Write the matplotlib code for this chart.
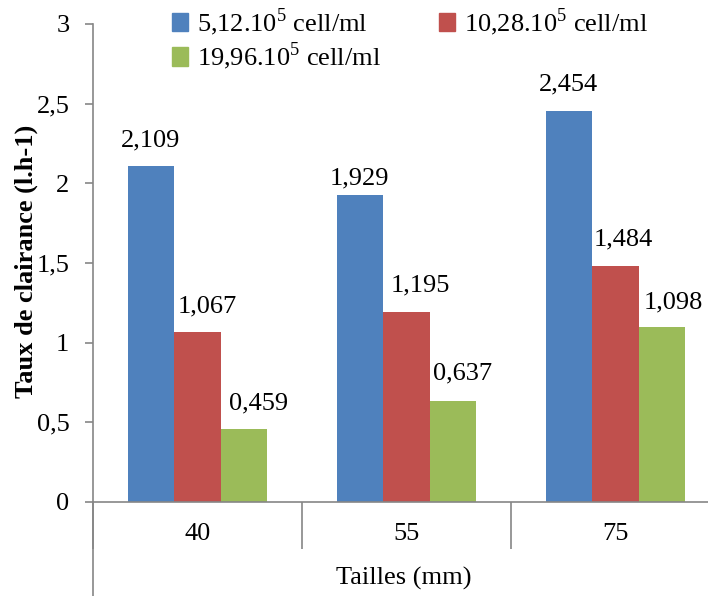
import numpy as np
import matplotlib
matplotlib.use("Agg")
import matplotlib.pyplot as plt
from matplotlib.patches import Patch

# data
tailles = ["40", "55", "75"]
series = ["5,12.10$^5$ cell/ml", "10,28.10$^5$ cell/ml", "19,96.10$^5$ cell/ml"]
conc_512 = [2.109, 1.929, 2.454]
conc_1028 = [1.067, 1.195, 1.484]
conc_1996 = [0.459, 0.637, 1.098]
yticks = [0, 0.5, 1, 1.5, 2, 2.5, 3]
colors = ["#4F81BD", "#C0504D", "#9BBB59"]

# label nudges (pixels) as placed in the original sheet
label_dx = [[0, 0, 0], [10, 14, 8], [14, 9, 11]]
label_dy = [[26, 16, 27], [26, 26, 26], [25, 27, 25]]

plt.rcParams["font.family"] = ["Liberation Serif", "DejaVu Serif"]
plt.rcParams["mathtext.fontset"] = "custom"
plt.rcParams["mathtext.rm"] = "Liberation Serif"

fig = plt.figure(figsize=(7.08, 5.96), dpi=100)
ax = fig.add_axes([93 / 708, 94 / 596, 627 / 708, 478 / 596])

x = np.arange(len(tailles))
w = 0.223
axis_col = "#868686"
for i, vals in enumerate([conc_512, conc_1028, conc_1996]):
    xs = x + (i - 1) * w
    ax.bar(xs, vals, w, color=colors[i], label=series[i])
    for j, v in enumerate(vals):
        ax.annotate(f"{v:.3f}".replace(".", ","), (xs[j], v),
                    xytext=(label_dx[i][j], label_dy[i][j]), textcoords="offset pixels",
                    ha="center", va="center", fontsize=19)

ax.set_xlim(-0.5, 2.5)
ax.set_ylim(0, 3)
ax.set_yticks(yticks)
ax.set_yticklabels([f"{t:g}".replace(".", ",") for t in yticks], fontsize=19)
ax.set_xticks(x)
ax.set_xticklabels(tailles, fontsize=19)
ax.set_xticks([-0.5, 0.5, 1.5, 2.5], minor=True)
ax.tick_params(axis="x", which="major", length=0, pad=15)
ax.tick_params(axis="x", which="minor", length=34, width=1.2, color=axis_col, direction="out")
ax.tick_params(axis="y", length=6, width=1.2, color=axis_col, pad=11)

for s in ["top", "right"]:
    ax.spines[s].set_visible(False)
for s in ["left", "bottom"]:
    ax.spines[s].set_color(axis_col)
    ax.spines[s].set_linewidth(1.2)
# left axis line running down past the category labels
ax.plot([0, 0], [0, -0.3], transform=ax.transAxes, color=axis_col, lw=1.2, clip_on=False)

fig.text(26 / 708, 1 - 261 / 596, "Taux de clairance (l.h-1)", rotation=90,
         ha="center", va="center", fontsize=19, fontweight="bold")
fig.text(404 / 708, 1 - 578 / 596, "Tailles (mm)", ha="center", va="center", fontsize=19)

handles = [Patch(color=colors[0], label=series[0]),
           Patch(color=colors[2], label=series[2]),
           Patch(color=colors[1], label=series[1])]
fig.legend(handles=handles, ncol=2, loc="upper left", bbox_to_anchor=(151 / 708, 1.025),
           frameon=False, fontsize=19, handlelength=0.6, handleheight=0.7,
           handletextpad=0.35, columnspacing=2.2, labelspacing=0.1, borderpad=0.3)

fig.savefig("out.png", dpi=100)
